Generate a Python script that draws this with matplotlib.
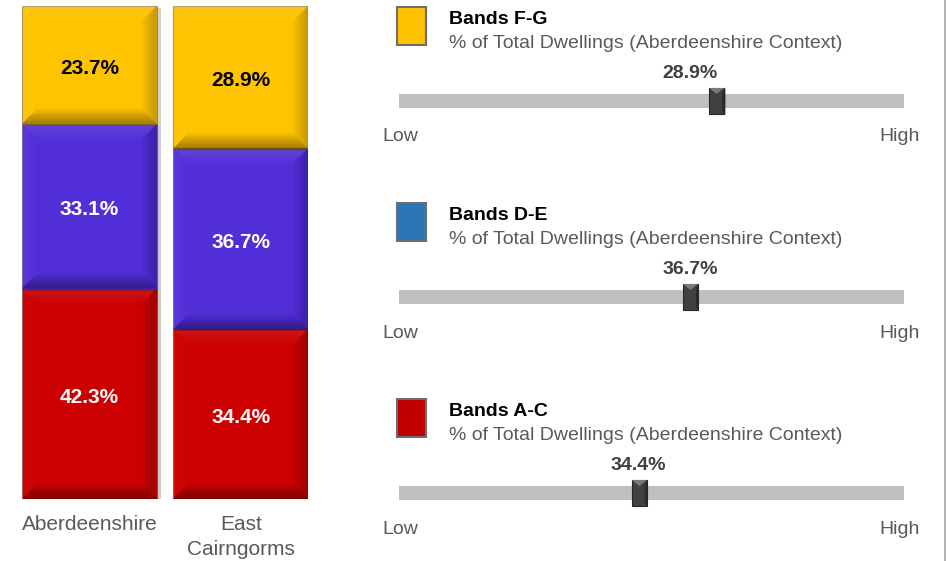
import numpy as np
import matplotlib.pyplot as plt
from matplotlib.patches import Rectangle, Polygon
from matplotlib.lines import Line2D
import matplotlib.patheffects as pe

plt.rcParams['font.family'] = ['Liberation Sans', 'DejaVu Sans']

# data
areas = ['Aberdeenshire', 'East\nCairngorms']
band_a_c = [42.3, 34.4]
band_d_e = [33.1, 36.7]
band_f_g = [23.7, 28.9]

band_names = ['Bands F-G', 'Bands D-E', 'Bands A-C']
band_values = [28.9, 36.7, 34.4]
legend_colors = ['#FFC000', '#2E75B6', '#C00000']
# slider handle position (0 = Low, 1 = High)
slider_pos = [0.629, 0.577, 0.476]
label_pos = [0.576, 0.577, 0.473]

W, H = 946, 561
fig = plt.figure(figsize=(W / 100, H / 100), dpi=100)


def fx(px):
    return px / W


def fy(py):
    return 1 - py / H


def bevel(ax, x0, x1, y0, y1, bx, by, n=7):
    # soft bevel: stacked thin frames, darkest at the outer edge
    for j in range(n):
        tx = bx * (j + 1) / n
        ty = by * (j + 1) / n
        sides = [
            ([(x0, y1), (x1, y1), (x1 - tx, y1 - ty), (x0 + tx, y1 - ty)], 'white', 0.10),
            ([(x0, y0), (x0, y1), (x0 + tx, y1 - ty), (x0 + tx, y0 + ty)], 'white', 0.05),
            ([(x1, y0), (x1, y1), (x1 - tx, y1 - ty), (x1 - tx, y0 + ty)], 'black', 0.22),
            ([(x0, y0), (x1, y0), (x1 - tx, y0 + ty), (x0 + tx, y0 + ty)], 'black', 0.38),
        ]
        for pts, c, a in sides:
            ax.add_patch(Polygon(pts, closed=True, color=c, alpha=a / n, lw=0))


# ---- stacked 100% bars ----
ax = fig.add_axes([fx(22), fy(499), (308 - 22) / W, 493 / H])
w = 0.891
ax.set_xlim(-w / 2, 1 + w / 2)
ax.set_ylim(0, 100)
ax.axis('off')

totals = np.array(band_a_c) + np.array(band_d_e) + np.array(band_f_g)
segs = [(np.array(band_a_c), '#CC0000', 'white'),
        (np.array(band_d_e), '#522ED9', 'white'),
        (np.array(band_f_g), '#FFC400', 'black')]

xpos = np.arange(len(areas))
bx = 15 / 151.5
by = 15 / 4.93
bottom = np.zeros(len(areas))
for vals, col, tcol in segs:
    share = vals / totals * 100
    bars = ax.bar(xpos, share, w, bottom=bottom, color=col,
                  edgecolor='#00000050', linewidth=0.8)
    for b in bars:
        b.set_path_effects([pe.SimplePatchShadow(offset=(3, -1.5), alpha=0.22), pe.Normal()])
    for i in range(len(areas)):
        x0, x1 = xpos[i] - w / 2, xpos[i] + w / 2
        y0, y1 = bottom[i], bottom[i] + share[i]
        bevel(ax, x0, x1, y0, y1, bx, by)
        ax.text(xpos[i], y0 + share[i] / 2 - 0.7, f'{vals[i]:.1f}%', ha='center', va='center',
                color=tcol, fontsize=15, fontweight='bold')
    bottom += share

for i, name in enumerate(areas):
    cx = [90, 241][i]
    fig.text(fx(cx), fy(515), name, ha='center', va='top', fontsize=15,
             color='#595959', linespacing=1.4)

# ---- slider panels ----
for k in range(3):
    off = k * 196
    # legend swatch
    fig.patches.append(Rectangle((fx(397), fy(45 + off)), 29 / W, 38 / H,
                                 transform=fig.transFigure, facecolor=legend_colors[k],
                                 edgecolor='#6E6E6E', linewidth=1.5))
    fig.text(fx(449), fy(19 + off), band_names[k], ha='left', va='center',
             fontsize=14, fontweight='bold', color='black')
    fig.text(fx(449), fy(43 + off), '% of Total Dwellings (Aberdeenshire Context)',
             ha='left', va='center', fontsize=14, color='#595959')

    sax = fig.add_axes([fx(399), fy(116 + off), 505 / W, 30 / H])
    sax.set_xlim(0, 1)
    sax.set_ylim(0, 30)
    sax.axis('off')
    sax.barh(15, 1, height=13.5, left=0, color='#BFBFBF', linewidth=0)
    hw = 15 / 505
    p = slider_pos[k]
    handle = Rectangle((p - hw / 2, 2), hw, 26, facecolor='#404040',
                       edgecolor='#262626', linewidth=0.8, clip_on=False)
    handle.set_path_effects([pe.SimplePatchShadow(offset=(1, -1), alpha=0.3), pe.Normal()])
    sax.add_patch(handle)
    sax.add_patch(Polygon([(p - hw / 2, 28), (p + hw / 2, 28), (p, 22)], closed=True,
                          color='#7A7A7A', lw=0, clip_on=False))
    sax.add_patch(Polygon([(p + hw / 2, 2), (p + hw / 2, 28), (p + hw / 2 - 0.004, 22),
                           (p + hw / 2 - 0.004, 5)], closed=True, color='#2A2A2A', lw=0,
                          clip_on=False))

    fig.text(fx(399 + label_pos[k] * 505), fy(73 + off), f'{band_values[k]:.1f}%',
             ha='center', va='center', fontsize=14, fontweight='bold', color='#404040')
    fig.text(fx(382), fy(137 + off), 'Low', ha='left', va='center', fontsize=14,
             color='#595959')
    fig.text(fx(920), fy(137 + off), 'High', ha='right', va='center', fontsize=14,
             color='#595959')

fig.lines.append(Line2D([fx(945), fx(945)], [0, 1], transform=fig.transFigure,
                        color='#A6A6A6', linewidth=1.2))

fig.savefig('out.png', dpi=100, facecolor='white')
